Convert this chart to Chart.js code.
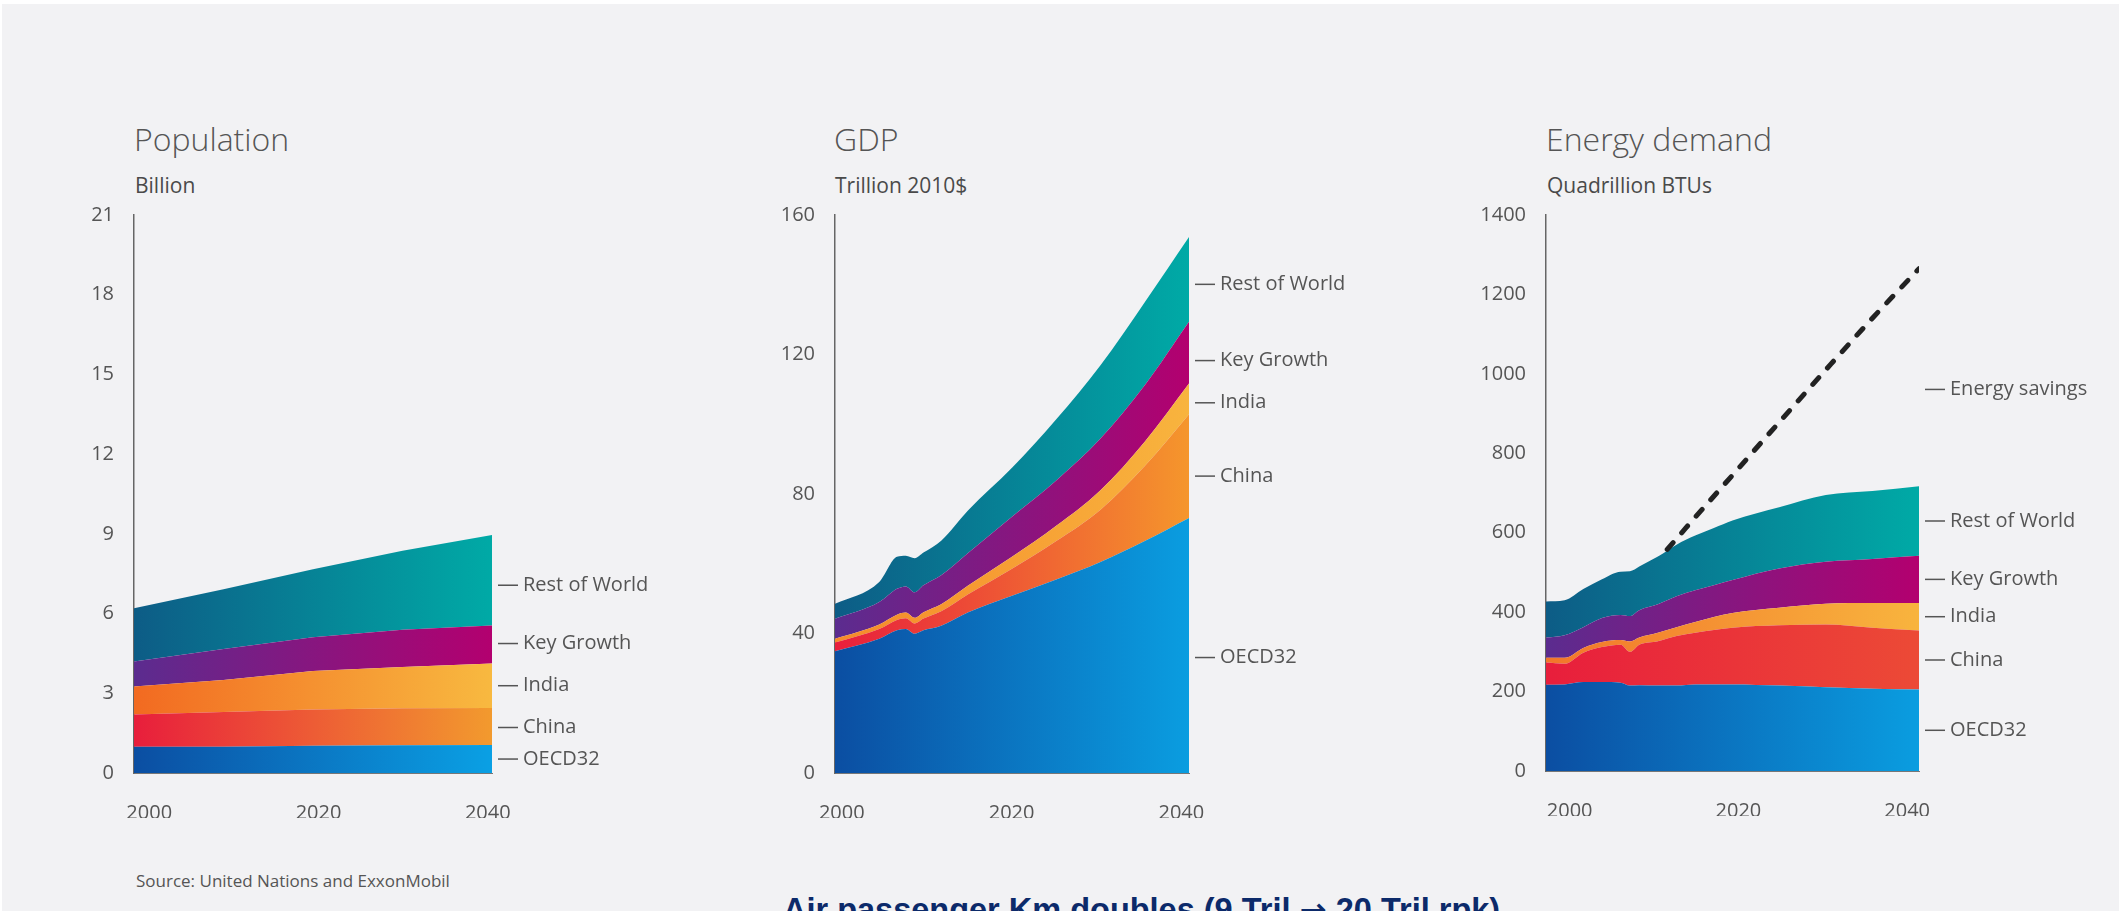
<!DOCTYPE html>
<html>
<head>
<meta charset="utf-8">
<script src="https://cdn.jsdelivr.net/npm/chart.js@4.4.1/dist/chart.umd.min.js"></script>
<style>
  html, body { margin: 0; padding: 0; background: #fff; }
  body { width: 2119px; height: 911px; overflow: hidden; position: relative; font-family: 'Open Sans', sans-serif; }
  #bg { position: absolute; left: 2px; top: 4px; right: 0; bottom: 0; background: #f2f2f4; }
  canvas { position: absolute; }
  .title { position: absolute; font-weight: 300; font-size: 32px; line-height: 32px; color: #555; white-space: nowrap; }
  .sub { position: absolute; font-size: 21px; line-height: 21px; color: #4a4a4a; white-space: nowrap; }
  #source { position: absolute; left: 136px; top: 872px; font-size: 17px; line-height: 17px; color: #555; white-space: nowrap; }
  #headline { position: absolute; left: 783px; top: 890px; font-family: 'Liberation Sans', Arial, sans-serif; font-weight: bold;
              font-size: 32.5px; line-height: 40px; color: #0c2a6a; white-space: nowrap; }
  #headline .arrow { font-family: 'DejaVu Sans', sans-serif; }
</style>
</head>
<body>
<div id="bg"></div>

<div class="title" style="left:134px; top:123px;">Population</div>
<div class="sub" style="left:135px; top:175px;">Billion</div>
<div class="title" style="left:834px; top:123px;">GDP</div>
<div class="sub" style="left:835px; top:175px;">Trillion 2010$</div>
<div class="title" style="left:1546px; top:123px;">Energy demand</div>
<div class="sub" style="left:1547px; top:175px;">Quadrillion BTUs</div>

<canvas id="popChart" width="622" height="635" style="left:60px; top:183px;"></canvas>
<canvas id="gdpChart" width="618" height="635" style="left:761px; top:183px;"></canvas>
<canvas id="energyChart" width="642" height="633" style="left:1472px; top:183px;"></canvas>

<div id="source">Source: United Nations and ExxonMobil</div>
<div id="headline">Air passenger Km doubles (9 Tril <span class="arrow">→</span> 20 Tril rpk)</div>

<script>
const seriesNames = ['OECD32', 'China', 'India', 'Key Growth', 'Rest of World'];
const yearTicks = [2000, 2020, 2040];

// Population, billion
const popYears = [2000, 2010, 2020, 2030, 2040];
const popOecd = [0.99, 0.99, 1.03, 1.04, 1.05];
const popChina = [1.21, 1.31, 1.36, 1.40, 1.40];
const popIndia = [1.06, 1.20, 1.45, 1.55, 1.67];
const popKeyGrowth = [0.94, 1.17, 1.27, 1.40, 1.43];
const popRest = [2.00, 2.25, 2.56, 2.97, 3.41];
const popTicks = [0, 3, 6, 9, 12, 15, 18, 21];

// GDP, trillion 2010$
const gdpYears = [2000, 2005, 2007, 2008, 2009, 2010, 2012, 2015, 2020, 2025, 2030, 2035, 2040];
const gdpOecd = [34.9, 38.5, 40.9, 41.3, 39.9, 40.9, 42.2, 46.0, 50.8, 55.5, 60.5, 66.5, 73.1];
const gdpChina = [2.5, 2.8, 3.0, 3.1, 3.0, 3.4, 4.2, 5.2, 7.8, 11.0, 15.0, 21.5, 29.8];
const gdpIndia = [1.1, 1.3, 1.5, 1.6, 1.6, 1.8, 2.0, 2.5, 3.4, 4.4, 5.6, 7.0, 8.8];
const gdpKeyGrowth = [5.7, 6.4, 7.4, 7.5, 7.3, 7.7, 8.3, 9.3, 11.5, 13.0, 14.8, 16.2, 17.7];
const gdpRest = [4.3, 5.8, 9.2, 8.8, 9.8, 9.4, 9.9, 12.2, 14.0, 17.5, 21.0, 23.8, 24.3];
const gdpTicks = [0, 40, 80, 120, 160];

// Energy demand, quadrillion BTUs
const energyYears = [2000, 2002, 2004, 2006, 2008, 2009, 2010, 2012, 2014, 2016, 2018, 2020, 2025, 2030, 2035, 2040];
const energyOecd = [217, 218, 224, 224, 222, 215, 216, 215, 215, 218, 218, 218, 215, 211, 207, 205];
const energyChina = [56, 52, 74, 88, 96, 85, 102, 112, 125, 130, 137, 143, 152, 158, 154, 149];
const energyIndia = [12, 15, 12, 13, 12, 26, 18, 21, 22, 27, 33, 37, 44, 52, 62, 69];
const energyKeyGrowth = [51, 57, 52, 60, 63, 64, 69, 72, 78, 80, 80, 83, 99, 106, 111, 119];
const energyRest = [91, 88, 96, 98, 109, 113, 110, 120, 130, 138, 144, 150, 154, 168, 171, 175];
// demand without efficiency gains (dashed line)
const savingsYears = [2013, 2015, 2020, 2025, 2030, 2035, 2040];
const savingsTotal = [558, 612, 745, 878, 1010, 1140, 1265];
const energyTicks = [0, 200, 400, 600, 800, 1000, 1200, 1400];

// left -> right colour of each band (per chart, the reference fades differently)
const popColors = [['#0b4ea2', '#0aa0e4'], ['#e81e3c', '#f29a2e'], ['#f26a21', '#f8b940'], ['#5b2c8f', '#b3006f'], ['#0d5c86', '#00aaa6']];
const gdpColors = [['#0b4ea2', '#0a9de0'], ['#e81e3c', '#f5962c'], ['#f58a2a', '#f8b43e'], ['#5b2c8f', '#b3006f'], ['#0d5c86', '#00aaa6']];
const energyColors = [['#0b4ea2', '#0a9de0'], ['#e81e3c', '#ec4a36'], ['#f2762a', '#f8b43e'], ['#5b2c8f', '#b3006f'], ['#0d5c86', '#00aaa6']];

const textColor = '#555';
const font = { family: "'Open Sans', sans-serif", size: 20 };

function gradientFill(c0, c1) {
  return ctx => {
    const area = ctx.chart.chartArea;
    if (!area) return c0;
    const g = ctx.chart.ctx.createLinearGradient(area.left, 0, area.right, 0);
    g.addColorStop(0, c0);
    g.addColorStop(1, c1);
    return g;
  };
}

// labelNudge: pixels to move each side label down from the band middle
function bands(years, valueLists, colors, tension, labelNudge) {
  return valueLists.map((values, i) => ({
    label: seriesNames[i],
    data: years.map((x, k) => ({ x: x, y: values[k] })),
    xAxisID: 'x',
    yAxisID: 'y',
    stack: 'regions',
    fill: i === 0 ? 'origin' : '-1',
    backgroundColor: gradientFill(colors[i][0], colors[i][1]),
    borderWidth: 0,
    pointRadius: 0,
    tension: tension,
    cubicInterpolationMode: tension ? 'monotone' : 'default',
    labelNudge: labelNudge ? labelNudge[i] : 0
  }));
}

// "— label" to the right of each band, halfway between its bottom and top at the last year
const bandLabels = {
  id: 'bandLabels',
  afterDatasetsDraw(chart) {
    const ctx = chart.ctx;
    const area = chart.chartArea;
    let prev = chart.scales.y.getPixelForValue(0);
    chart.data.datasets.forEach((ds, i) => {
      const pts = chart.getDatasetMeta(i).data;
      const top = pts[pts.length - 1].y;
      const mid = (top + prev) / 2 + (ds.labelNudge || 0);
      prev = top;
      ctx.save();
      ctx.strokeStyle = textColor;
      ctx.lineWidth = 1.5;
      ctx.beginPath();
      ctx.moveTo(area.right + 6, mid);
      ctx.lineTo(area.right + 26, mid);
      ctx.stroke();
      ctx.fillStyle = textColor;
      ctx.font = `${font.size}px ${font.family}`;
      ctx.textBaseline = 'middle';
      ctx.fillText(ds.label, area.right + 31, mid);
      ctx.restore();
    });
  }
};

function makeChart(id, datasets, yTicks, xMin, xMax, padRight) {
  return new Chart(document.getElementById(id), {
    type: 'line',
    data: { datasets: datasets },
    options: {
      responsive: false,
      animation: false,
      layout: { padding: { top: 20, right: padRight, bottom: 0, left: 0 } },
      plugins: { legend: { display: false }, tooltip: { enabled: false } },
      scales: {
        x: { type: 'linear', display: false, min: 2000, max: 2040 },
        // label axis: the reference prints its year labels slightly inside the plot edges
        xl: {
          type: 'linear', position: 'bottom', min: xMin, max: xMax,
          afterBuildTicks: s => { s.ticks = yearTicks.map(v => ({ value: v })); },
          afterFit: s => { s.height = 45; },
          grid: { display: false, drawTicks: false },
          border: { display: true, color: '#777', width: 1 },
          ticks: { padding: 28, color: textColor, font: font, maxRotation: 0, autoSkip: false, callback: v => String(v) }
        },
        y: {
          stacked: true, min: 0, max: yTicks[yTicks.length - 1],
          afterBuildTicks: s => { s.ticks = yTicks.map(v => ({ value: v })); },
          afterFit: s => { s.width = 74; },
          grid: { display: false, drawTicks: false },
          border: { display: true, color: '#666', width: 1.5 },
          ticks: { padding: 20, color: textColor, font: font, callback: v => String(v) }
        }
      }
    },
    plugins: [bandLabels]
  });
}

makeChart('popChart',
  bands(popYears, [popOecd, popChina, popIndia, popKeyGrowth, popRest], popColors, 0, [0, 1, 0, -1, 5]),
  popTicks, 1998.2, 2040.5, 190);

makeChart('gdpChart',
  bands(gdpYears, [gdpOecd, gdpChina, gdpIndia, gdpKeyGrowth, gdpRest], gdpColors, 0.4, [12, 10, 4, 8, 5]),
  gdpTicks, 1999.2, 2040.9, 190);

const energySets = bands(energyYears, [energyOecd, energyChina, energyIndia, energyKeyGrowth, energyRest], energyColors, 0.4);
energySets.push({
  label: 'Energy savings',
  data: savingsYears.map((x, k) => ({ x: x, y: savingsTotal[k] })),
  xAxisID: 'x',
  yAxisID: 'y',
  stack: 'savings',
  fill: false,
  borderColor: '#222',
  borderWidth: 5,
  borderDash: [9, 13],
  borderCapStyle: 'round',
  pointRadius: 0,
  tension: 0.4,
  cubicInterpolationMode: 'monotone',
  order: -1,
  labelNudge: 12
});
makeChart('energyChart', energySets, energyTicks, 1997.2, 2041.4, 195);
</script>
</body>
</html>
